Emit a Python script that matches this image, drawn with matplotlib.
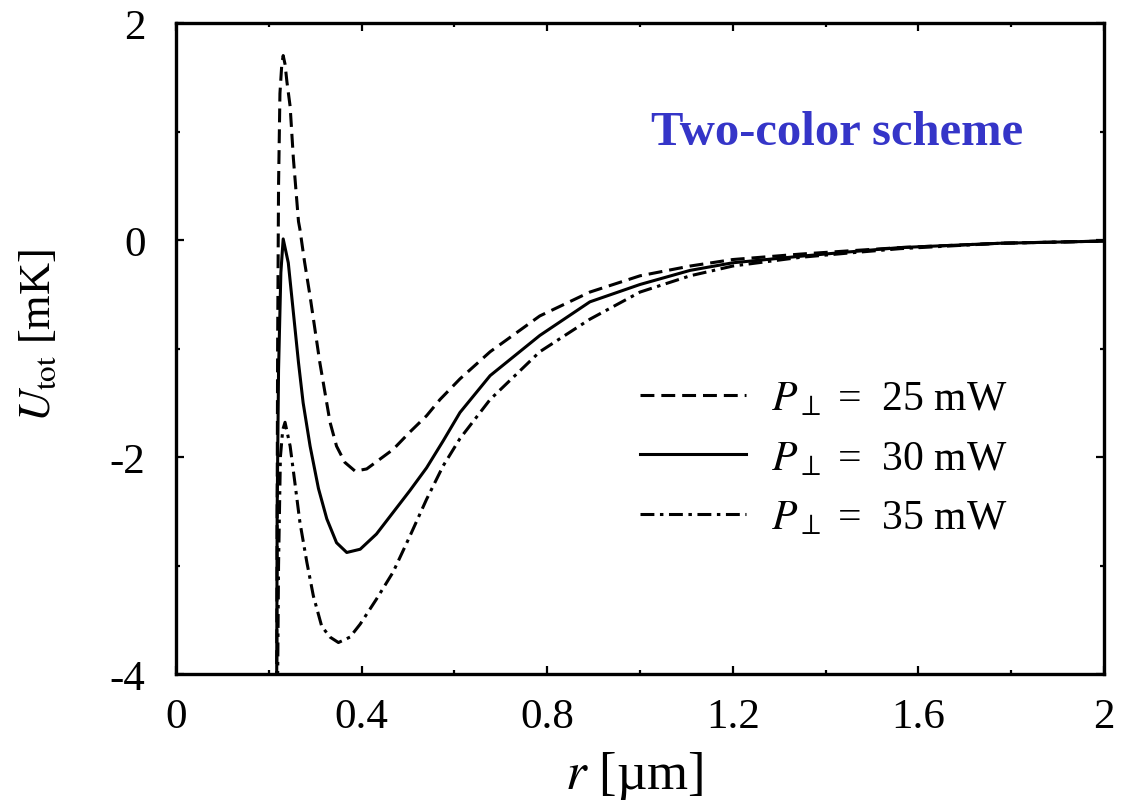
import matplotlib
matplotlib.use("Agg")
import matplotlib.pyplot as plt

plt.rcParams['font.family'] = ['Liberation Serif', 'DejaVu Serif']
plt.rcParams['mathtext.fontset'] = 'stix'
plt.rcParams['axes.unicode_minus'] = False
plt.rcParams['lines.scale_dashes'] = False

# ---- data ----
r_25 = [0.217, 0.218, 0.219, 0.221, 0.224, 0.228, 0.231, 0.235, 0.239, 0.246, 0.253, 0.264, 0.267,
        0.277, 0.289, 0.310, 0.332, 0.346, 0.364, 0.386, 0.411, 0.468, 0.504, 0.540, 0.569, 0.612,
        0.677, 0.784, 0.892, 1.0, 1.108, 1.2, 1.345, 1.45, 1.56, 1.776, 2.0]
u_25 = [-4.1, -2.5, -1.0, 0.5, 1.35, 1.62, 1.70, 1.62, 1.46, 1.23, 0.75, 0.17, 0.10,
        -0.20, -0.52, -1.13, -1.68, -1.90, -2.05, -2.13, -2.11, -1.93, -1.77, -1.62, -1.47, -1.28,
        -1.03, -0.70, -0.48, -0.33, -0.24, -0.18, -0.13, -0.10, -0.07, -0.03, -0.01]

r_30 = [0.217, 0.218, 0.221, 0.226, 0.231, 0.242, 0.253, 0.264, 0.274, 0.289, 0.307, 0.325, 0.346,
        0.368, 0.397, 0.432, 0.468, 0.504, 0.540, 0.576, 0.612, 0.677, 0.784, 0.892, 1.0, 1.108,
        1.2, 1.345, 1.45, 1.56, 1.776, 2.0]
u_30 = [-4.1, -2.5, -1.2, -0.3, 0.01, -0.21, -0.67, -1.13, -1.50, -1.90, -2.29, -2.57, -2.79,
        -2.88, -2.85, -2.71, -2.51, -2.31, -2.10, -1.85, -1.59, -1.25, -0.88, -0.57, -0.41, -0.28,
        -0.21, -0.15, -0.11, -0.07, -0.03, -0.01]

r_35 = [0.219, 0.221, 0.225, 0.230, 0.235, 0.246, 0.256, 0.267, 0.282, 0.296, 0.314, 0.332, 0.350,
        0.375, 0.397, 0.432, 0.468, 0.504, 0.540, 0.576, 0.612, 0.677, 0.784, 0.892, 1.0, 1.108,
        1.2, 1.345, 1.45, 1.56, 1.776, 2.0]
u_35 = [-4.1, -3.0, -2.0, -1.75, -1.68, -1.90, -2.23, -2.60, -2.97, -3.28, -3.56, -3.66, -3.71,
        -3.66, -3.54, -3.31, -3.06, -2.73, -2.39, -2.08, -1.83, -1.47, -1.03, -0.73, -0.48, -0.33,
        -0.24, -0.16, -0.12, -0.08, -0.03, -0.01]

labels = [r'$P_{\perp}$ =  25 mW', r'$P_{\perp}$ =  30 mW', r'$P_{\perp}$ =  35 mW']
xticks = [0, 0.4, 0.8, 1.2, 1.6, 2]
xticklabels = ['0', '0.4', '0.8', '1.2', '1.6', '2']
yticks = [-4, -2, 0, 2]
yticklabels = ['-4', '-2', '0', '2']

# ---- figure ----
W, H = 1133, 804
fig = plt.figure(figsize=(W / 100, H / 100), dpi=100)
ax = fig.add_axes([176 / W, (H - 675) / H, (1104 - 176) / W, (675 - 24) / H])

lw = 2.2
ax.plot(r_25, u_25, color='black', lw=lw, dashes=(10, 5), label=labels[0])
ax.plot(r_30, u_30, color='black', lw=lw, ls='-', label=labels[1])
ax.plot(r_35, u_35, color='black', lw=lw, dashes=(10, 4, 2.5, 4), label=labels[2])

ax.set_xlim(0, 2)
ax.set_ylim(-4, 2)
ax.set_xticks(xticks)
ax.set_xticklabels(xticklabels)
ax.set_yticks(yticks)
ax.set_yticklabels(yticklabels)
ax.set_xticks([0.2, 0.6, 1.0, 1.4, 1.8], minor=True)
ax.set_yticks([-3, -1, 1], minor=True)
ax.tick_params(which='both', direction='in', top=True, right=True, width=1.6,
               labelsize=31, colors='black')
ax.tick_params(axis='x', which='major', length=6, pad=17)
ax.tick_params(axis='y', which='major', length=6, pad=22)
ax.tick_params(which='minor', length=3)
for s in ax.spines.values():
    s.set_linewidth(2.4)

# axis labels
fig.text(634 / W, 1 - 789 / H, r'$r$ [µm]', ha='center', va='baseline', fontsize=38)
fig.text(38 / W, 1 - 335 / H, r'$U_{\mathrm{tot}}$ [mK]', ha='center', va='center',
         rotation=90, fontsize=32)

# annotation
fig.text(837 / W, 1 - 145 / H, 'Two-color scheme', ha='center', va='baseline',
         fontsize=35, fontweight='bold', color='#3535C8')

leg = ax.legend(loc='upper left', bbox_to_anchor=(640 / W, 1 - 381 / H),
                bbox_transform=fig.transFigure, frameon=False, fontsize=30,
                handlelength=2.55, handletextpad=0.6, labelspacing=0.5, borderpad=0,
                borderaxespad=0)

fig.savefig('out.png', dpi=100)
